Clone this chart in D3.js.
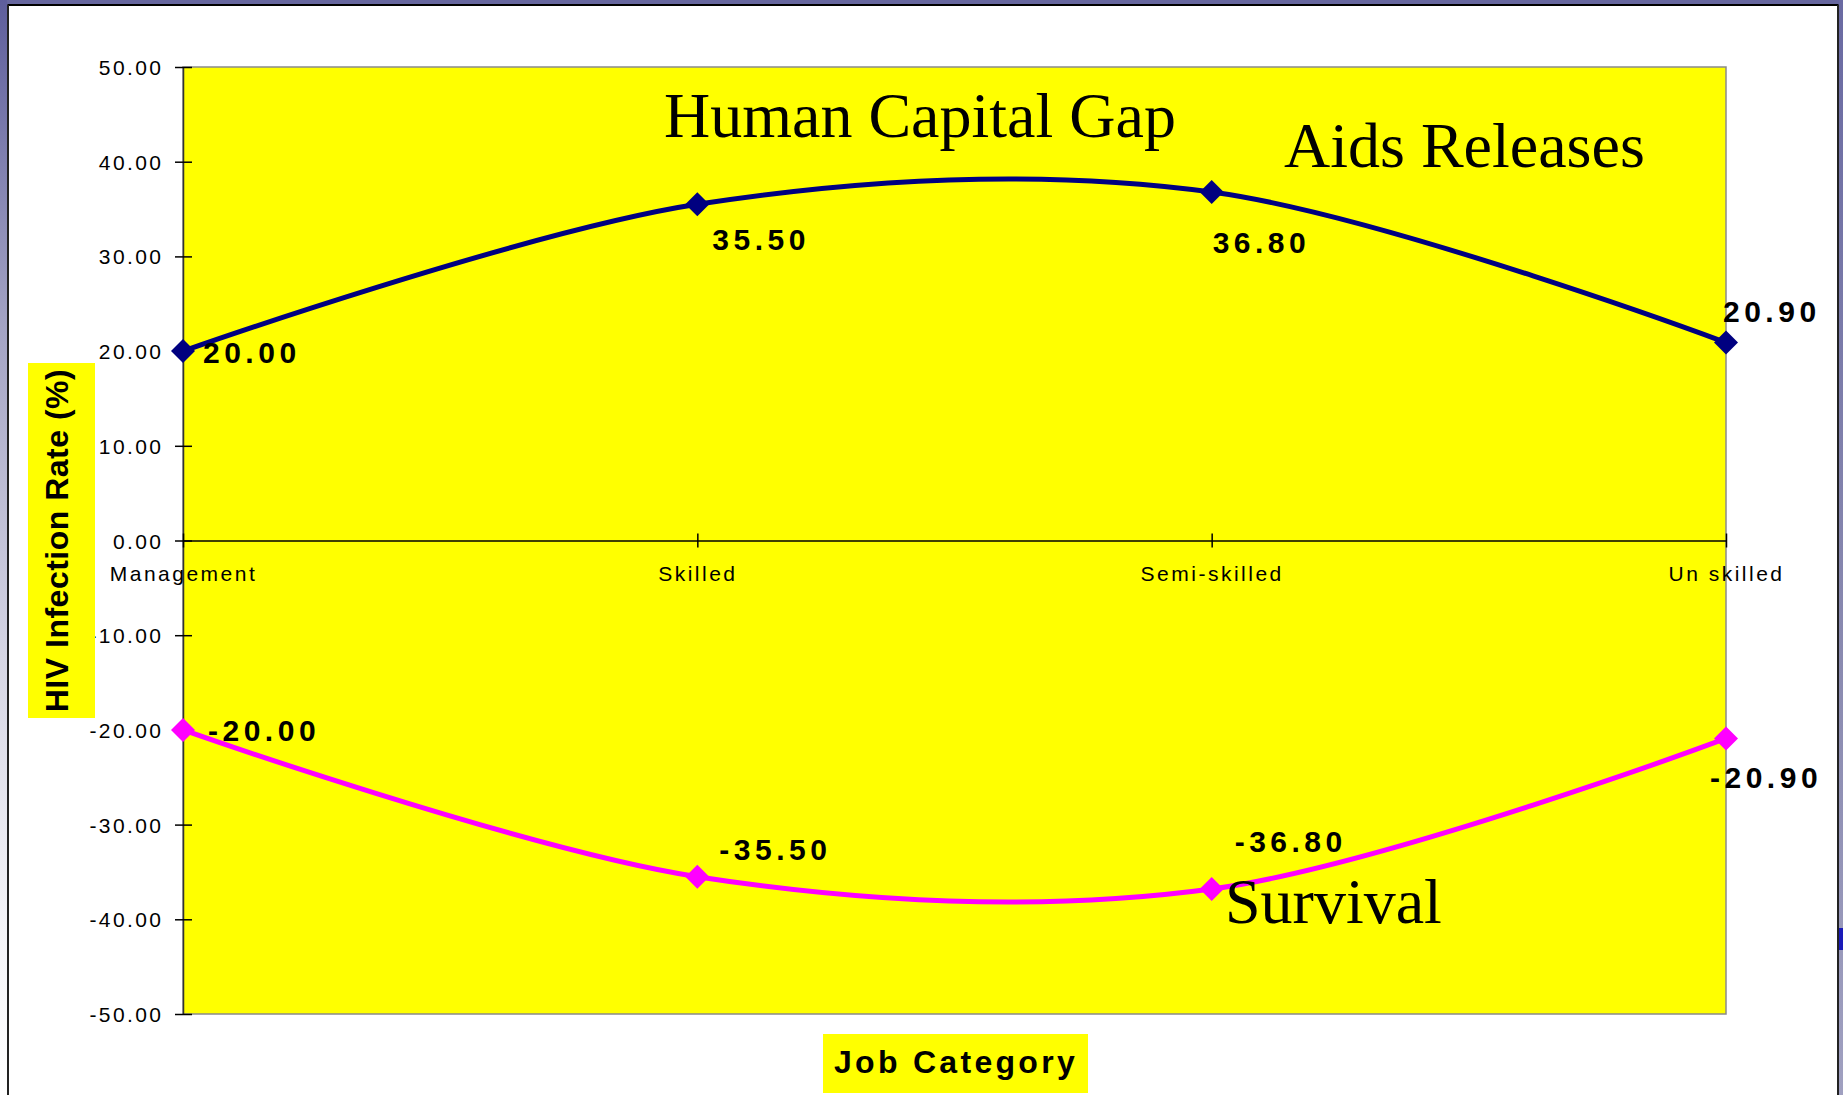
<!DOCTYPE html>
<html>
<head>
<meta charset="utf-8">
<script src="https://cdn.jsdelivr.net/npm/d3@7"></script>
<style>
  html, body { margin: 0; padding: 0; background: #ffffff; }
  svg { display: block; }
</style>
</head>
<body>
<svg id="chart" width="1843" height="1095"></svg>
<script>
// ---------------- data ----------------
const categories = ["Management", "Skilled", "Semi-skilled", "Un skilled"];
const releasesValues = [20.00, 35.50, 36.80, 20.90];
const survivalValues = [-20.00, -35.50, -36.80, -20.90];
const yTickValues = [50, 40, 30, 20, 10, 0, -10, -20, -30, -40, -50];
const yAxisTitle = "HIV Infection Rate (%)";
const xAxisTitle = "Job Category";
const annotations = ["Human Capital Gap", "Aids Releases", "Survival"];

// ---------------- layout ----------------
const W = 1843, H = 1095;
const plot = { left: 183, right: 1726, top: 67, bottom: 1014 };
const releasesLabelOffsets = [[20, 12], [15, 46], [1, 61], [-3, -21]];
const survivalLabelOffsets = [[25, 11], [22, -17], [23, -37], [-16, 50]];
const fmt = d => d.toFixed(2);

const svg = d3.select("#chart");

// frame / slide background
const defs = svg.append("defs");
const gl = defs.append("linearGradient").attr("id", "leftGrad").attr("x1", 0).attr("y1", 0).attr("x2", 0).attr("y2", 1);
gl.append("stop").attr("offset", "0%").attr("stop-color", "#5e5e9c");
gl.append("stop").attr("offset", "30%").attr("stop-color", "#a4a4c4");
gl.append("stop").attr("offset", "60%").attr("stop-color", "#d6d6e4");
gl.append("stop").attr("offset", "85%").attr("stop-color", "#f4f4f8");
gl.append("stop").attr("offset", "100%").attr("stop-color", "#ffffff");
const gr = defs.append("linearGradient").attr("id", "rightGrad").attr("x1", 0).attr("y1", 0).attr("x2", 0).attr("y2", 1);
gr.append("stop").attr("offset", "0%").attr("stop-color", "#6a6aa2");
gr.append("stop").attr("offset", "60%").attr("stop-color", "#8a8ab0");
gr.append("stop").attr("offset", "100%").attr("stop-color", "#a0a0c0");

svg.append("rect").attr("x", 0).attr("y", 0).attr("width", W).attr("height", H).attr("fill", "#ffffff");
svg.append("rect").attr("x", 0).attr("y", 0).attr("width", W).attr("height", 5).attr("fill", "#66669e");
svg.append("rect").attr("x", 0).attr("y", 0).attr("width", 7).attr("height", H).attr("fill", "url(#leftGrad)");
svg.append("rect").attr("x", 1839).attr("y", 0).attr("width", 4).attr("height", H).attr("fill", "url(#rightGrad)");
svg.append("rect").attr("x", 1839).attr("y", 928).attr("width", 4).attr("height", 22).attr("fill", "#1a1ab8");
// black frame lines
svg.append("line").attr("x1", 7.5).attr("x2", 1838.5).attr("y1", 5).attr("y2", 5).attr("stroke", "#000").attr("stroke-width", 2);
svg.append("line").attr("x1", 8).attr("x2", 8).attr("y1", 5).attr("y2", H).attr("stroke", "#222").attr("stroke-width", 2);
svg.append("line").attr("x1", 1838).attr("x2", 1838).attr("y1", 5).attr("y2", H).attr("stroke", "#222").attr("stroke-width", 2);

// ---------------- scales ----------------
const x = d3.scalePoint().domain(categories).range([plot.left, plot.right]).padding(0);
const y = d3.scaleLinear().domain([-50, 50]).range([plot.bottom, plot.top]);

// plot area
svg.append("rect")
  .attr("x", plot.left).attr("y", plot.top)
  .attr("width", plot.right - plot.left).attr("height", plot.bottom - plot.top)
  .attr("fill", "#ffff00").attr("stroke", "#8a8a8a").attr("stroke-width", 1.5);

// y axis
const yAxis = d3.axisLeft(y).tickValues(yTickValues).tickSize(0).tickPadding(0).tickFormat(fmt);
const yg = svg.append("g").attr("transform", `translate(${plot.left},0)`).call(yAxis);
yg.select(".domain").attr("stroke", "#333").attr("stroke-width", 1.5);
yg.selectAll(".tick line").remove();
yg.selectAll(".tick").append("line")
  .attr("x1", -8).attr("x2", 9).attr("y1", 0).attr("y2", 0)
  .attr("stroke", "#000").attr("stroke-width", 1.5);
yg.selectAll(".tick text")
  .attr("x", -22 + 2.4)
  .attr("dy", "0.36em")
  .attr("fill", "#000")
  .style("font-family", "'Liberation Sans', Arial, sans-serif")
  .style("font-size", "21px")
  .style("letter-spacing", "2.4px")
  .attr("text-anchor", "end");

// x axis at zero
const xAxis = d3.axisBottom(x).tickSize(0).tickPadding(0);
const xg = svg.append("g").attr("transform", `translate(0,${y(0)})`).call(xAxis);
xg.select(".domain").attr("stroke", "#000").attr("stroke-width", 1.5);
xg.selectAll(".tick line").remove();
xg.selectAll(".tick").append("line")
  .attr("x1", 0).attr("x2", 0).attr("y1", -7).attr("y2", 7)
  .attr("stroke", "#000").attr("stroke-width", 1.5);
xg.selectAll(".tick text")
  .attr("y", 0)
  .attr("dy", 40)
  .attr("fill", "#000")
  .style("font-family", "'Liberation Sans', Arial, sans-serif")
  .style("font-size", "21px")
  .style("letter-spacing", "2.5px")
  .attr("text-anchor", "middle");

// ---------------- series ----------------
const lineGen = d3.line()
  .x((d, i) => x(categories[i]))
  .y(d => y(d))
  .curve(d3.curveCardinal.tension(0));

function drawSeries(values, color, offsets) {
  svg.append("path")
    .datum(values)
    .attr("d", lineGen)
    .attr("fill", "none")
    .attr("stroke", color)
    .attr("stroke-width", 5)
    .attr("stroke-linejoin", "round");
  svg.append("g").selectAll("path")
    .data(values)
    .join("path")
    .attr("transform", (d, i) => `translate(${x(categories[i])},${y(d)})`)
    .attr("d", "M0,-12L12,0L0,12L-12,0Z")
    .attr("fill", color);
  svg.append("g").selectAll("text")
    .data(values)
    .join("text")
    .attr("x", (d, i) => x(categories[i]) + offsets[i][0])
    .attr("y", (d, i) => y(d) + offsets[i][1])
    .text(d => fmt(d))
    .attr("fill", "#000")
    .style("font-family", "'Liberation Sans', Arial, sans-serif")
    .style("font-weight", "bold")
    .style("font-size", "30px")
    .style("letter-spacing", "4.5px");
}

drawSeries(releasesValues, "#000080", releasesLabelOffsets);
drawSeries(survivalValues, "#ff00ff", survivalLabelOffsets);

// ---------------- annotations ----------------
const annPos = [[664, 137], [1284, 167], [1225, 923]];
svg.append("g").selectAll("text")
  .data(annotations)
  .join("text")
  .attr("x", (d, i) => annPos[i][0])
  .attr("y", (d, i) => annPos[i][1])
  .text(d => d)
  .attr("fill", "#000")
  .style("font-family", "'Liberation Serif', 'Times New Roman', serif")
  .style("font-size", "64px");

// ---------------- axis titles ----------------
svg.append("rect").attr("x", 28).attr("y", 363).attr("width", 67).attr("height", 355).attr("fill", "#ffff00");
svg.append("text")
  .attr("transform", `translate(68,${y(0)}) rotate(-90)`)
  .attr("text-anchor", "middle")
  .text(yAxisTitle)
  .attr("fill", "#000")
  .style("font-family", "'Liberation Sans', Arial, sans-serif")
  .style("font-weight", "bold")
  .style("font-size", "32px")
  .style("letter-spacing", "0.5px");

svg.append("rect").attr("x", 823).attr("y", 1034).attr("width", 265).attr("height", 59).attr("fill", "#ffff00");
svg.append("text")
  .attr("x", (plot.left + plot.right) / 2 + 1.5)
  .attr("y", 1073)
  .attr("text-anchor", "middle")
  .text(xAxisTitle)
  .attr("fill", "#000")
  .style("font-family", "'Liberation Sans', Arial, sans-serif")
  .style("font-weight", "bold")
  .style("font-size", "32px")
  .style("letter-spacing", "3.3px");
</script>
</body>
</html>
